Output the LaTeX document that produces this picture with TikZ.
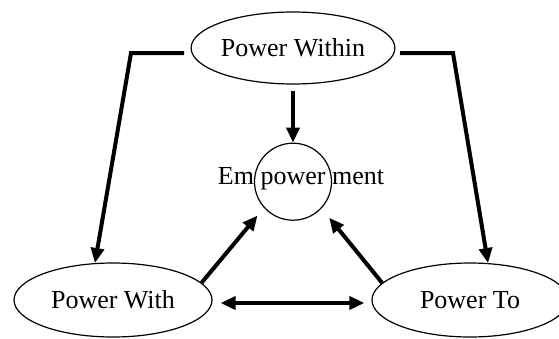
\documentclass[tikz,border=0pt]{standalone}
\usepackage{fontspec}
\setmainfont{Liberation Serif}
\usetikzlibrary{positioning,shapes.geometric,arrows.meta}
\begin{document}
\begin{tikzpicture}[x=1pt,y=-1pt,
	power/.style={ellipse, draw, line width=1.2pt, inner sep=0pt, minimum width=198pt, minimum height=74pt},
	link/.style={line width=4pt, -{Triangle[length=15pt,width=13pt]}},
	biarrow/.style={line width=4pt, {Triangle[length=15pt,width=13pt]}-{Triangle[length=15pt,width=13pt]}},
	font=\fontsize{26}{31}\selectfont]
	\useasboundingbox (0,0) rectangle (559,338);
	\node [power, minimum width=190pt, minimum height=72pt] (within) at (293,48) {Power Within};
	\node [circle, draw, line width=1.2pt, inner sep=0pt, minimum size=77pt, below = 58pt of within] (core) {};
	\node (word) at ([xshift=8pt,yshift=3pt]core.center) {Em power ment};
	\node [power] (with) at (113,300) {Power With};
	\node [power, minimum width=196pt] (to) at (470,300) {Power To};
	
	\coordinate (wl) at (184,53);
	\coordinate (wlc) at (131,53);
	\coordinate (wr) at (400,53);
	\coordinate (wrc) at (453,53);
	\draw [link] (wl) -- (wlc) -- (with.116);
	\draw [link] (wr) -- (wrc) -- (to.64);
	\draw [link, shorten <=6pt] (within.south) -- (core.north);
	\draw [link, shorten >=10pt] (with.11) -- (core.222);
	\draw [link, shorten >=12pt] (to.169) -- (core.317);
	\draw [biarrow, shorten <=8pt, shorten >=7pt] ([yshift=-3pt]with.east) -- ([yshift=-3pt]to.west);
\end{tikzpicture}
\end{document}
